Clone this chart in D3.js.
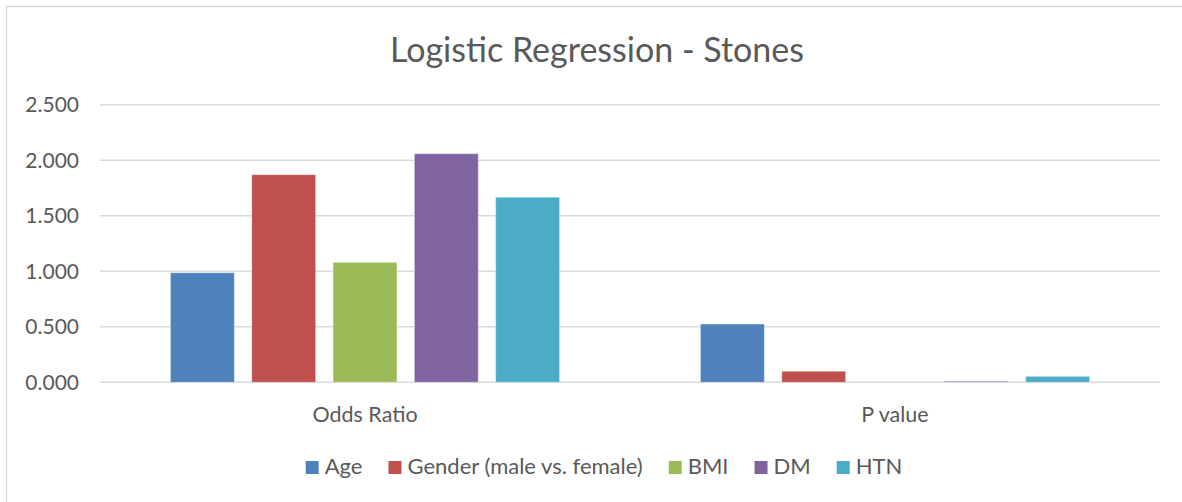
<!DOCTYPE html>
<html>
<head>
<meta charset="utf-8">
<script src="https://cdn.jsdelivr.net/npm/d3@7"></script>
<style>
  body { margin: 0; background: #fff; }
  text { font-family: Lato, "Open Sans", sans-serif; fill: #595959; }
</style>
</head>
<body>
<div id="chart"></div>
<script>
var width = 1182,
    height = 502;

var groups = ["Odds Ratio", "P value"];
var series = ["Age", "Gender (male vs. female)", "BMI", "DM", "HTN"];
var oddsRatio = [0.987, 1.870, 1.081, 2.059, 1.667];
var pValue = [0.525, 0.100, 0.000, 0.010, 0.054];
var yTicks = [0, 0.5, 1.0, 1.5, 2.0, 2.5];

var color = ["#4f81bd", "#c0504d", "#9bbb59", "#8064a2", "#4bacc6"];

var values = [oddsRatio, pValue];

var svg = d3.select("#chart").append("svg")
    .attr("width", width)
    .attr("height", height);

// chart frame (right and bottom edges fall outside the picture)
svg.append("rect")
    .attr("x", 6.5)
    .attr("y", 6.5)
    .attr("width", width + 10)
    .attr("height", height + 10)
    .attr("fill", "none")
    .attr("stroke", "#d9d9d9")
    .attr("stroke-width", 1.5);

var x0 = d3.scaleBand()
    .domain(groups)
    .range([100, 1160]);

var x1 = d3.scaleBand()
    .domain(series)
    .range([0, x0.bandwidth()])
    .paddingInner(0.213)
    .paddingOuter(0.866);

var y = d3.scaleLinear()
    .domain([0, 2.5])
    .range([382.3, 104.7]);

// gridlines
svg.append("g")
    .selectAll("line")
    .data(yTicks)
    .enter().append("line")
    .attr("x1", 100)
    .attr("x2", 1160)
    .attr("y1", function(d) { return y(d); })
    .attr("y2", function(d) { return y(d); })
    .attr("stroke", "#d9d9d9")
    .attr("stroke-width", 1.5);

// y tick labels
svg.append("g")
    .selectAll("text")
    .data(yTicks)
    .enter().append("text")
    .attr("x", 79)
    .attr("y", function(d) { return y(d); })
    .attr("dy", "0.36em")
    .attr("text-anchor", "end")
    .style("font-size", "21px")
    .text(function(d) { return d3.format(".3f")(d); });

// bars
groups.forEach(function(g, gi) {
    svg.append("g")
        .attr("transform", "translate(" + x0(g) + ",0)")
        .selectAll("rect")
        .data(series)
        .enter().append("rect")
        .attr("x", function(s) { return x1(s); })
        .attr("width", x1.bandwidth())
        .attr("y", function(s, i) { return y(values[gi][i]); })
        .attr("height", function(s, i) { return y(0) - y(values[gi][i]); })
        .attr("fill", function(s, i) { return color[i]; })
        .attr("stroke", "#ffffff")
        .attr("stroke-opacity", 0.45)
        .attr("stroke-width", 1);
});

// category labels
svg.append("g")
    .selectAll("text")
    .data(groups)
    .enter().append("text")
    .attr("x", function(d) { return x0(d) + x0.bandwidth() / 2; })
    .attr("y", 421.5)
    .attr("text-anchor", "middle")
    .style("font-size", "21.5px")
    .text(function(d) { return d; });

// title
svg.append("text")
    .attr("x", 597)
    .attr("y", 62)
    .attr("text-anchor", "middle")
    .style("font-size", "34px")
    .text("Logistic Regression - Stones");

// legend
var legend = svg.append("g");
var items = legend.selectAll("g")
    .data(series)
    .enter().append("g");

items.append("rect")
    .attr("width", 13)
    .attr("height", 13)
    .attr("y", 461)
    .attr("fill", function(d, i) { return color[i]; });

items.append("text")
    .attr("x", 19)
    .attr("y", 474)
    .style("font-size", "22px")
    .text(function(d) { return d; });

var pos = 0;
items.each(function() {
    var node = d3.select(this);
    node.attr("transform", "translate(" + pos + ",0)");
    pos += 19 + node.select("text").node().getComputedTextLength() + 26;
});
var legendWidth = pos - 26;
legend.attr("transform", "translate(" + (604 - legendWidth / 2) + ",0)");
</script>
</body>
</html>
